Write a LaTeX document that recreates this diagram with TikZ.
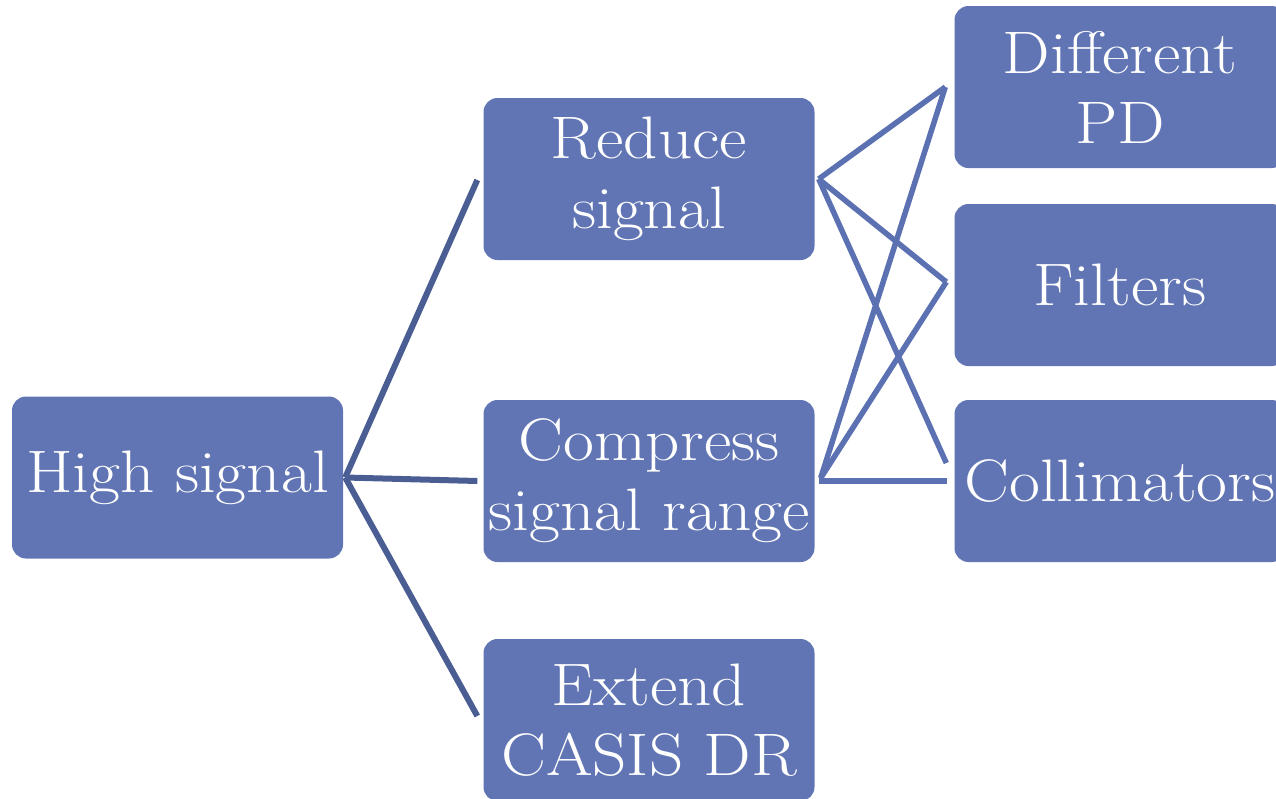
\documentclass[tikz,border=0pt]{standalone}
\usepackage{fontspec}
\setmainfont{Latin Modern Roman}[FakeStretch=1.12]
\definecolor{boxblue}{RGB}{97,117,180}
\definecolor{darkline}{RGB}{74,94,148}
\definecolor{lightline}{RGB}{92,113,178}
\begin{document}
\begin{tikzpicture}[x=1pt,y=-1pt,
  box/.style={fill=boxblue, rounded corners=14pt, text=white, align=center,
    inner sep=0pt, minimum width=331pt, minimum height=162pt,
    font=\fontsize{60}{70}\selectfont},
  lconn/.style={darkline, line width=6pt},
  rconn/.style={lightline, line width=5.5pt}]
\useasboundingbox (0,0) rectangle (1276,798);
\clip (0,0) rectangle (1276,798);

% boxes
\node[box] (high)     at (177.5,477.5) {High signal};
\node[box] (reduce)   at (649,179)     {Reduce\\signal};
\node[box] (compress) at (649,481)     {Compress\\signal range};
\node[box] (extend)   at (649,720)     {Extend\\CASIS DR};
\node[box] (diff)     at (1120,87)     {Different\\PD};
\node[box] (filters)  at (1120,285)    {Filters};
\node[box] (coll)     at (1120,481)    {Collimators};

% first level
\draw[lconn] ([xshift=2pt]high.east) -- ([xshift=-6pt,yshift=-1pt]reduce.west);
\draw[lconn] ([xshift=2pt]high.east) -- ([xshift=-6pt]compress.west);
\draw[lconn] ([xshift=2pt]high.east) -- ([xshift=-6pt,yshift=4pt]extend.west);

% second level
\draw[rconn] ([xshift=4pt]reduce.east) -- ([xshift=-9pt]diff.west);
\draw[rconn] ([xshift=4pt]reduce.east) -- ([xshift=-8pt,yshift=3pt]filters.west);
\draw[rconn] ([xshift=4pt]reduce.east) -- ([xshift=-8pt,yshift=18pt]coll.west);
\draw[rconn] ([xshift=6pt,yshift=3pt]compress.east) -- ([xshift=-9pt]diff.west);
\draw[rconn] ([xshift=6pt,yshift=3pt]compress.east) -- ([xshift=-8pt,yshift=3pt]filters.west);
\draw[rconn] ([xshift=4pt]compress.east) -- ([xshift=-7pt]coll.west);
\end{tikzpicture}
\end{document}
